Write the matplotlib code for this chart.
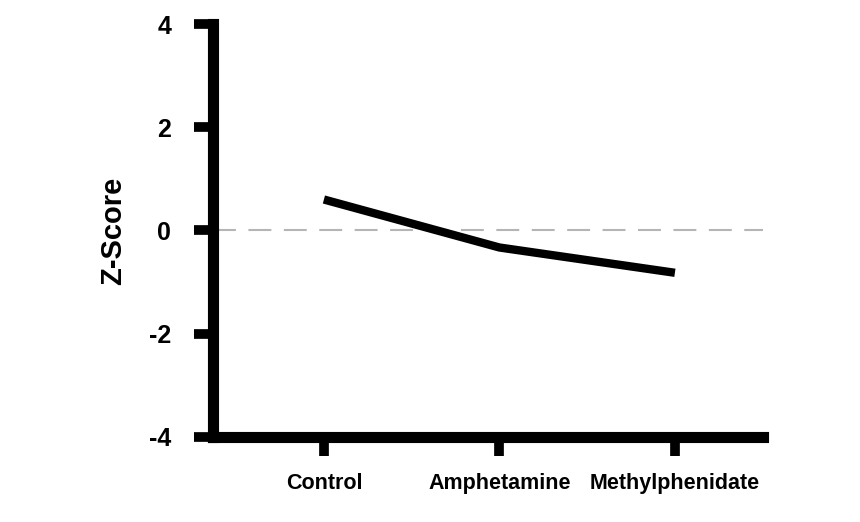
import matplotlib.pyplot as plt

plt.rcParams["font.family"] = ["Liberation Sans", "DejaVu Sans"]

groups = ["Control", "Amphetamine", "Methylphenidate"]
z_scores = [0.6, -0.33, -0.82]
y_ticks = [-4, -2, 0, 2, 4]

fig = plt.figure(figsize=(8.6, 5.22), dpi=100)
ax = fig.add_axes([213 / 860, 0.163, 550 / 860, 0.791])

x = list(range(len(groups)))
ax.axhline(0, color="#b5b5b5", linewidth=1.5, dashes=(11, 6), zorder=1)
ax.plot(x, z_scores, color="black", linewidth=6, solid_capstyle="butt", zorder=3)

ax.set_xlim(-0.632, 2.502)
ax.set_ylim(-4, 4)
ax.set_xticks(x)
ax.set_xticklabels(groups, fontsize=15.5, fontweight="bold")
ax.set_yticks(y_ticks)
ax.set_yticklabels([str(t) for t in y_ticks], fontsize=18, fontweight="bold")

for side in ("top", "right"):
    ax.spines[side].set_visible(False)
for side in ("left", "bottom"):
    ax.spines[side].set_linewidth(8)
    ax.spines[side].set_capstyle("projecting")

ax.tick_params(axis="both", length=14, width=7, color="black")
ax.tick_params(axis="y", pad=16)
ax.tick_params(axis="x", pad=12)

ax.set_ylabel("Z-Score", fontsize=21, fontweight="bold", labelpad=16)

fig.savefig("out.png", dpi=100)
